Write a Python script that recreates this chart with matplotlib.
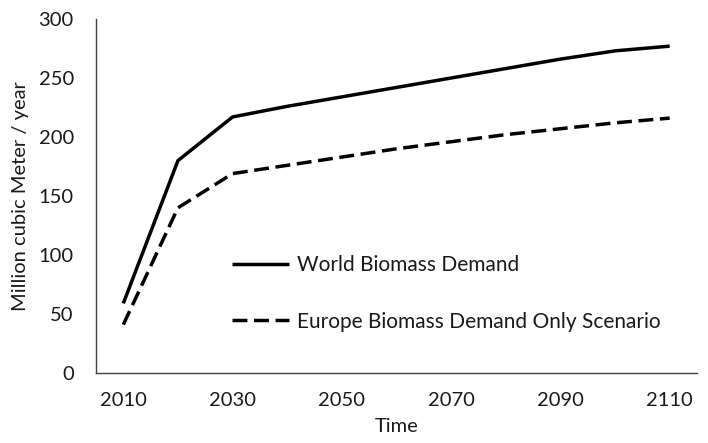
import matplotlib
matplotlib.use("Agg")
import matplotlib.pyplot as plt

years = [2010, 2020, 2030, 2040, 2050, 2060, 2070, 2080, 2090, 2100, 2110]
world = [59, 180, 217, 226, 234, 242, 250, 258, 266, 273, 277]
europe = [41, 140, 169, 176, 183, 190, 196, 202, 207, 212, 216]
xticks = [2010, 2030, 2050, 2070, 2090, 2110]
yticks = [0, 50, 100, 150, 200, 250, 300]

plt.rcParams['font.family'] = ['Lato', 'DejaVu Sans']

fig = plt.figure(figsize=(7.08, 4.43), dpi=100)
ax = fig.add_axes([96/708, 70/443, 601/708, 354/443])

ax.plot(years, world, color='black', lw=2.5, solid_capstyle='butt',
        label='World Biomass Demand')
ax.plot(years, europe, color='black', lw=2.5, dashes=(4.3, 1.9),
        label='Europe Biomass Demand Only Scenario')

ax.set_xlim(2005, 2115)
ax.set_ylim(0, 300)
ax.set_xticks(xticks)
ax.set_yticks(yticks)
ax.tick_params(axis='both', length=0, labelsize=14.5, colors='#1a1a1a')
ax.tick_params(axis='y', pad=16)
ax.tick_params(axis='x', pad=14)
for s in ['top', 'right']:
    ax.spines[s].set_visible(False)
for s in ['left', 'bottom']:
    ax.spines[s].set_color('#404040')
    ax.spines[s].set_linewidth(1.0)

ax.set_ylabel('Million cubic Meter / year', fontsize=14.5, color='#1a1a1a', labelpad=7)
ax.set_xlabel('Time', fontsize=14.5, color='#1a1a1a', labelpad=6)

leg = ax.legend(loc='upper left', bbox_to_anchor=((224-96)/601, (373-247)/354),
                frameon=False, fontsize=15, handlelength=2.7, handletextpad=0.4,
                labelspacing=1.75, borderaxespad=0)
for t in leg.get_texts():
    t.set_color('#1a1a1a')

fig.savefig('out.png', dpi=100)
